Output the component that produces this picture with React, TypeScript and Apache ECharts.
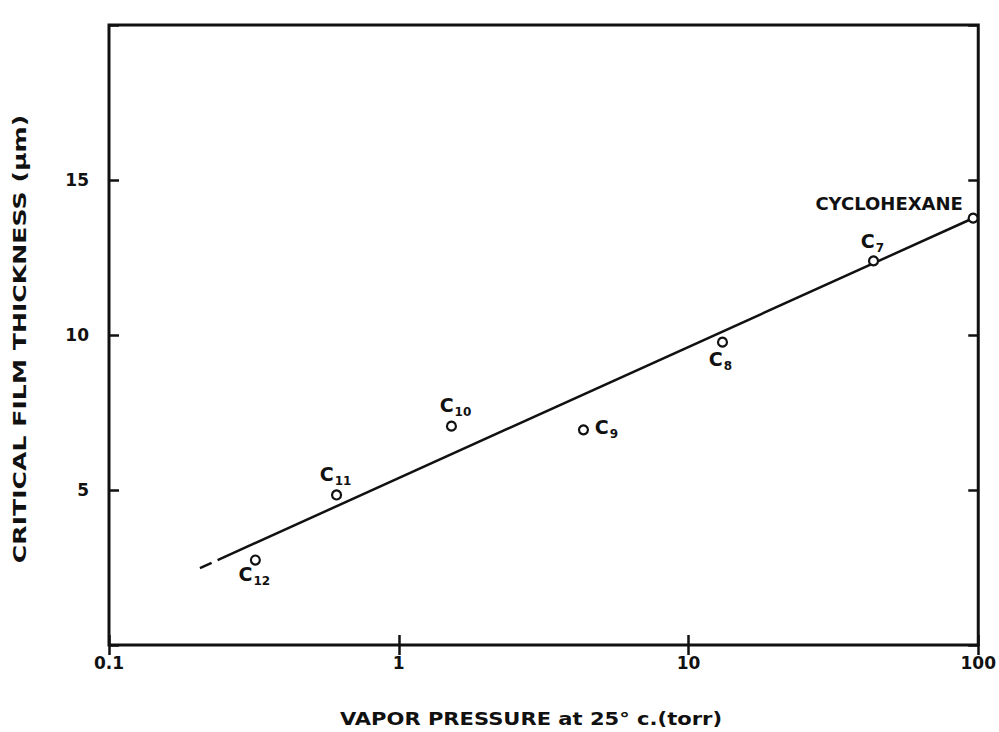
import React, { useEffect, useRef } from "react";
import * as echarts from "echarts";

// Measured critical film thickness vs. vapor pressure of the hydrocarbon
const compounds = ["C12", "C11", "C10", "C9", "C8", "C7", "CYCLOHEXANE"];
const pressure = [0.32, 0.61, 1.52, 4.34, 13.1, 43.5, 96];
const thickness = [2.74, 4.84, 7.06, 6.94, 9.77, 12.39, 13.77];

// Fitted line (solid part) and its short dashed extrapolation at low pressure
const fitPressure = [0.237, 93];
const fitThickness = [2.74, 13.71];
const dashPressure = [0.206, 0.226];
const dashThickness = [2.48, 2.65];

// Axis ranges and labelled ticks
const xRange = [0.1, 100];
const yRange = [0, 20];
const yTickStep = 5;
const yTickLabels = [5, 10, 15];

// Where each compound label's centre sits relative to its marker centre (px)
const labelOffsets: number[][] = [
  [-1, 15],
  [-1, -20],
  [4, -20],
  [23, -2],
  [-2, 18],
  [-1, -19],
  [-84, -14],
];

const INK = "#111";
const FONT = "'DejaVu Sans', 'Liberation Sans', sans-serif";
const MARKER = 9;

export default function App() {
  const ref = useRef<HTMLDivElement>(null);

  useEffect(() => {
    if (!ref.current) return;
    const chart = echarts.init(ref.current, null, { renderer: "svg" });

    const tickStyle = { show: true, inside: true, length: 10, lineStyle: { color: INK, width: 2.5 } };
    const tickLabel = { color: INK, fontFamily: FONT, fontWeight: "bold" as const, fontSize: 17 };
    const richBase = {
      fontWeight: "bold" as const,
      fontFamily: FONT,
      color: INK,
    };

    const xCommon = {
      type: "log" as const,
      logBase: 10,
      min: xRange[0],
      max: xRange[1],
      axisLine: { show: false },
      axisTick: tickStyle,
      minorTick: { show: false },
      splitLine: { show: false },
    };
    const yCommon = {
      type: "value" as const,
      min: yRange[0],
      max: yRange[1],
      interval: yTickStep,
      axisLine: { show: false },
      axisTick: tickStyle,
      splitLine: { show: false },
    };

    chart.setOption({
      animation: false,
      backgroundColor: "#fff",
      grid: {
        left: 109,
        right: 18,
        top: 25,
        bottom: 87,
        show: true,
        borderColor: INK,
        borderWidth: 3,
        backgroundColor: "transparent",
      },
      xAxis: [
        {
          ...xCommon,
          position: "bottom",
          axisLabel: { ...tickLabel, margin: 9, formatter: (v: number) => String(v) },
        },
        { ...xCommon, position: "top", axisLabel: { show: false } },
      ],
      yAxis: [
        {
          ...yCommon,
          position: "left",
          axisLabel: {
            ...tickLabel,
            margin: 20,
            formatter: (v: number) => (yTickLabels.includes(v) ? String(v) : ""),
          },
        },
        { ...yCommon, position: "right", axisLabel: { show: false } },
      ],
      series: [
        {
          type: "line",
          data: fitPressure.map((p, i) => [p, fitThickness[i]]),
          showSymbol: false,
          lineStyle: { color: INK, width: 2.5 },
          z: 2,
        },
        {
          type: "line",
          data: dashPressure.map((p, i) => [p, dashThickness[i]]),
          showSymbol: false,
          lineStyle: { color: INK, width: 2.5 },
          z: 2,
        },
        {
          type: "scatter",
          symbol: "circle",
          symbolSize: MARKER,
          itemStyle: { color: "#fff", borderColor: INK, borderWidth: 2.2, opacity: 1 },
          z: 3,
          data: pressure.map((p, i) => ({
            value: [p, thickness[i]],
            name: compounds[i],
            // label anchored at the marker's top edge, so shift by half its size
            label: { offset: [labelOffsets[i][0], labelOffsets[i][1] + MARKER / 2] },
          })),
          label: {
            show: true,
            position: "top",
            distance: 0,
            align: "center",
            verticalAlign: "middle",
            color: INK,
            formatter: (params: any) => {
              const m = /^C(\d+)$/.exec(params.name);
              return m ? `{c|C}{s|${m[1]}}` : `{w|${params.name}}`;
            },
            rich: {
              c: { ...richBase, fontSize: 19, lineHeight: 22 },
              s: { ...richBase, fontSize: 12, lineHeight: 12, padding: [14, 0, 0, 1] },
              w: { ...richBase, fontSize: 18, lineHeight: 22 },
            },
          },
        },
      ],
      graphic: [
        {
          type: "text",
          x: 20,
          y: 339,
          rotation: Math.PI / 2,
          scaleX: 1.4,
          style: {
            text: "CRITICAL FILM THICKNESS (μm)",
            fill: INK,
            font: `bold 18px ${FONT}`,
            align: "center",
            verticalAlign: "middle",
          },
        },
        {
          type: "text",
          x: 531,
          y: 719,
          scaleX: 1.17,
          style: {
            text: "VAPOR PRESSURE at 25° c.(torr)",
            fill: INK,
            font: `bold 18px ${FONT}`,
            align: "center",
            verticalAlign: "middle",
          },
        },
      ],
    });

    return () => chart.dispose();
  }, []);

  return (
    <div
      ref={ref}
      style={{ position: "fixed", left: 0, top: 0, width: 999, height: 732, background: "#fff" }}
    />
  );
}
